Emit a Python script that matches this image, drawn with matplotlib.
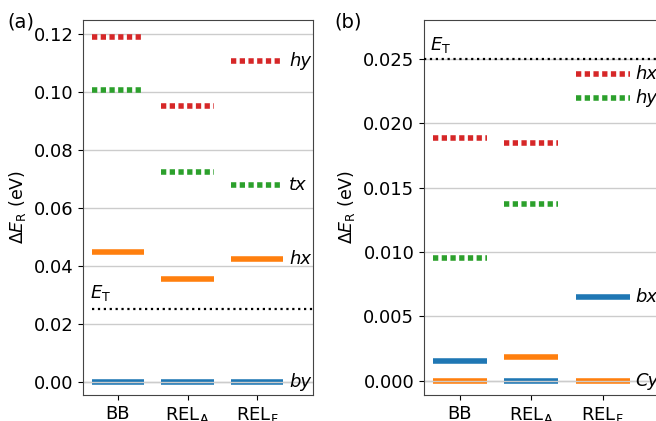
import matplotlib
matplotlib.use("Agg")
import matplotlib.pyplot as plt

methods = ["BB", r"REL$_\mathrm{A}$", r"REL$_\mathrm{F}$"]
E_T = 0.025

# panel (a): level energies per method (eV)
a_hy = [0.1191, 0.0952, 0.1107]
a_tx = [0.1008, 0.0724, 0.0677]
a_hx = [0.0448, 0.0354, 0.0424]
a_by = [0.0, 0.0, 0.0]

# panel (b)
b_hx = [0.01884, 0.01842, 0.02378]
b_hy = [0.00953, 0.01371, 0.02198]
b_bx = [0.0015, 0.0, 0.00649]
b_cy = [0.0, 0.00181, 0.0]

BLUE, ORANGE, GREEN, RED = "#1f77b4", "#ff7f0e", "#2ca02c", "#d62728"
HALF = 0.375


def draw_levels(ax, vals, color, dotted, label):
    for i, v in enumerate(vals):
        if dotted:
            ax.plot([i - HALF, i + HALF], [v, v], color=color, lw=4.0,
                    dashes=(0.95, 0.62), dash_capstyle="butt", zorder=2)
        else:
            ax.plot([i - HALF, i + HALF], [v, v], color=color, lw=4.0,
                    solid_capstyle="butt", zorder=2)
    ax.text(len(vals) - 1 + HALF + 0.08, vals[-1], label, fontsize=13,
            style="italic", va="center", ha="left", clip_on=False)


def style_axes(ax):
    ax.set_xticks(range(len(methods)))
    ax.set_xticklabels(methods)
    ax.tick_params(labelsize=13)
    ax.yaxis.grid(True, color="#cccccc", lw=1.0)
    ax.set_axisbelow(True)
    ax.set_xlim(-0.5, 2.8)
    ax.set_ylabel(r"$\Delta E_\mathrm{R}$ (eV)", fontsize=12.5)
    for s in ax.spines.values():
        s.set_color("#444444")


fig = plt.figure(figsize=(6.56, 4.21), dpi=100)
ax1 = fig.add_axes([0.1265, 0.0618, 0.3506, 0.8907])
ax2 = fig.add_axes([0.6463, 0.0618, 0.3598, 0.8907])

style_axes(ax1)
draw_levels(ax1, a_hy, RED, True, "hy")
draw_levels(ax1, a_tx, GREEN, True, "tx")
draw_levels(ax1, a_hx, ORANGE, False, "hx")
draw_levels(ax1, a_by, BLUE, False, "by")
ax1.axhline(0, color="#cccccc", lw=1.0, zorder=2.5)
ax1.plot([-HALF, 2.8], [E_T, E_T], color="black", ls=":", lw=1.6, zorder=3)
ax1.text(-0.4, 0.0272, r"$E_\mathrm{T}$", fontsize=13, va="bottom")
ax1.set_ylim(-0.0046, 0.1248)
ax1.set_yticks([0.0, 0.02, 0.04, 0.06, 0.08, 0.10, 0.12])
ax1.set_yticklabels(["0.00", "0.02", "0.04", "0.06", "0.08", "0.10", "0.12"])
fig.text(0.012, 0.935, "(a)", fontsize=14)

style_axes(ax2)
draw_levels(ax2, b_hx, RED, True, "hx")
draw_levels(ax2, b_hy, GREEN, True, "hy")
draw_levels(ax2, b_bx, BLUE, False, "bx")
draw_levels(ax2, b_cy, ORANGE, False, "Cy")
ax2.axhline(0, color="#cccccc", lw=1.0, zorder=2.5)
ax2.plot([-0.5, 2.8], [E_T, E_T], color="black", ls=":", lw=1.6, zorder=3)
ax2.text(-0.42, 0.0253, r"$E_\mathrm{T}$", fontsize=13, va="bottom")
ax2.set_ylim(-0.0011, 0.0280)
ax2.set_yticks([0.0, 0.005, 0.010, 0.015, 0.020, 0.025])
ax2.set_yticklabels(["0.000", "0.005", "0.010", "0.015", "0.020", "0.025"])
fig.text(0.51, 0.935, "(b)", fontsize=14)

fig.savefig("out.png", dpi=100)
